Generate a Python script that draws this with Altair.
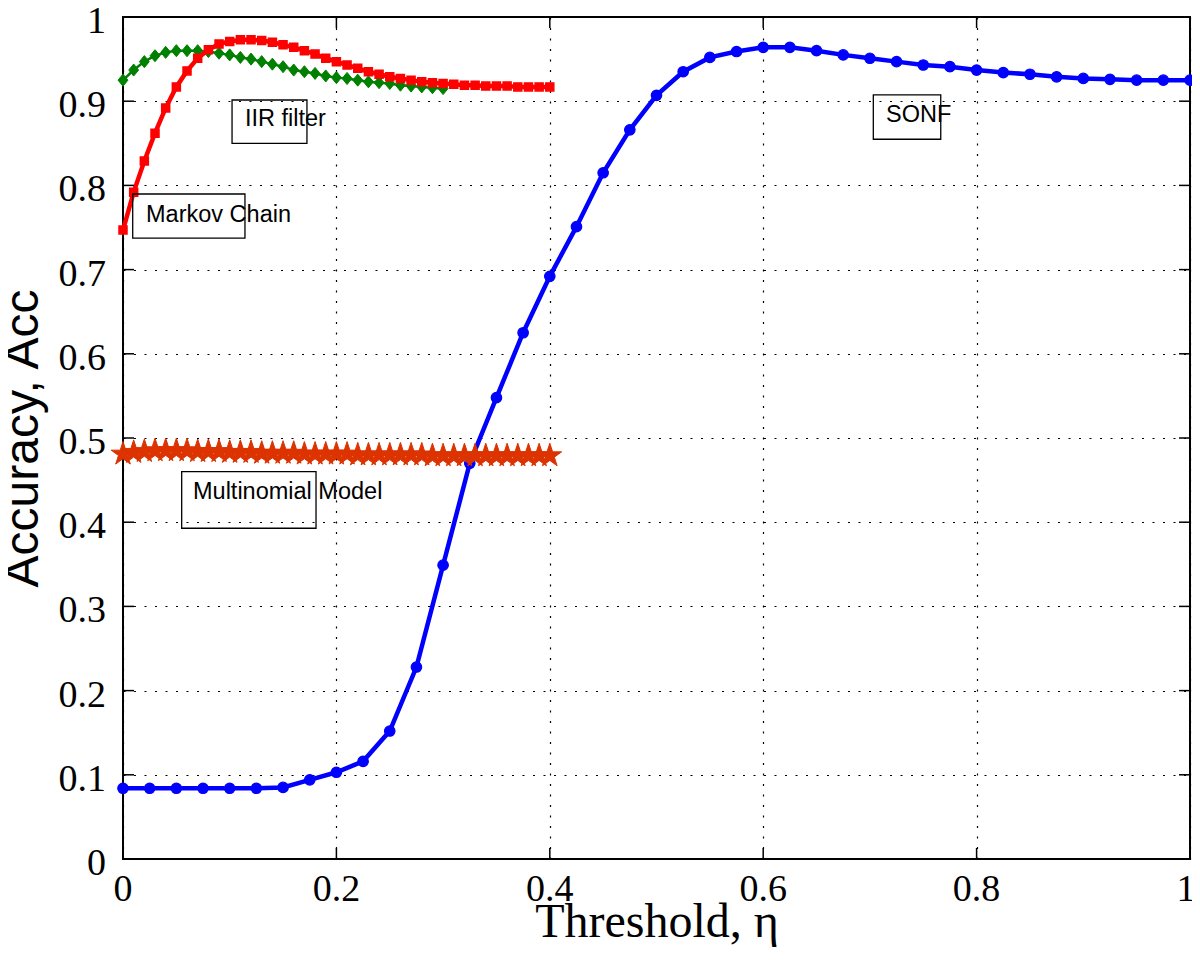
import altair as alt
import pandas as pd

# ---------------- data ----------------
sonf_x = [0.0, 0.025, 0.05, 0.075, 0.1, 0.125, 0.15, 0.175, 0.2, 0.225, 0.25, 0.275,
          0.3, 0.325, 0.35, 0.375, 0.4, 0.425, 0.45, 0.475, 0.5, 0.525, 0.55, 0.575,
          0.6, 0.625, 0.65, 0.675, 0.7, 0.725, 0.75, 0.775, 0.8, 0.825, 0.85, 0.875,
          0.9, 0.925, 0.95, 0.975, 1.0]
sonf_y = [0.084, 0.084, 0.084, 0.084, 0.084, 0.084, 0.085, 0.094, 0.103, 0.116, 0.152,
          0.228, 0.349, 0.470, 0.548, 0.625, 0.692, 0.751, 0.815, 0.866, 0.907, 0.935,
          0.952, 0.959, 0.964, 0.964, 0.960, 0.955, 0.951, 0.947, 0.943, 0.941, 0.937,
          0.934, 0.932, 0.929, 0.927, 0.926, 0.925, 0.925, 0.925]

markov_x = [0.0, 0.01, 0.02, 0.03, 0.04, 0.05, 0.06, 0.07, 0.08, 0.09, 0.1, 0.11, 0.12,
            0.13, 0.14, 0.15, 0.16, 0.17, 0.18, 0.19, 0.2, 0.21, 0.22, 0.23, 0.24, 0.25,
            0.26, 0.27, 0.28, 0.29, 0.3, 0.31, 0.32, 0.33, 0.34, 0.35, 0.36, 0.37, 0.38,
            0.39, 0.4]
markov_y = [0.747, 0.792, 0.829, 0.862, 0.892, 0.917, 0.936, 0.951, 0.961, 0.968, 0.971,
            0.973, 0.973, 0.972, 0.970, 0.967, 0.964, 0.960, 0.956, 0.951, 0.947, 0.943,
            0.939, 0.935, 0.932, 0.929, 0.927, 0.925, 0.923, 0.922, 0.921, 0.920, 0.919,
            0.919, 0.918, 0.918, 0.918, 0.917, 0.917, 0.917, 0.917]

iir_x = [0.0, 0.01, 0.02, 0.03, 0.04, 0.05, 0.06, 0.07, 0.08, 0.09, 0.1, 0.11, 0.12,
         0.13, 0.14, 0.15, 0.16, 0.17, 0.18, 0.19, 0.2, 0.21, 0.22, 0.23, 0.24, 0.25,
         0.26, 0.27, 0.28, 0.29, 0.3]
iir_y = [0.925, 0.937, 0.947, 0.954, 0.958, 0.960, 0.960, 0.960, 0.959, 0.957, 0.955,
         0.952, 0.950, 0.947, 0.944, 0.941, 0.937, 0.935, 0.933, 0.930, 0.928, 0.927,
         0.925, 0.923, 0.922, 0.921, 0.919, 0.918, 0.917, 0.916, 0.915]

multi_x = markov_x
multi_y = [0.481, 0.483, 0.484, 0.485, 0.485, 0.485, 0.485, 0.484, 0.484, 0.484,
           0.483, 0.483, 0.483, 0.482, 0.482, 0.482, 0.482, 0.481, 0.481, 0.481,
           0.481, 0.481, 0.480, 0.480, 0.480, 0.480, 0.480, 0.480, 0.480, 0.479,
           0.479, 0.479, 0.479, 0.479, 0.479, 0.479, 0.479, 0.479, 0.479, 0.479, 0.479]

x_ticks = [0, 0.2, 0.4, 0.6, 0.8, 1]
x_tick_labels = ["0", "0.2", "0.4", "0.6", "0.8", "1"]
y_ticks = [0, 0.1, 0.2, 0.3, 0.4, 0.5, 0.6, 0.7, 0.8, 0.9, 1]
y_tick_labels = ["0", "0.1", "0.2", "0.3", "0.4", "0.5", "0.6", "0.7", "0.8", "0.9", "1"]

# annotation boxes (MATLAB text boxes)
note_text = ["Markov Chain", "IIR filter", "Multinomial Model", "SONF"]
note_tx = [0.0216, 0.1143, 0.0656, 0.7151]
note_ty = [0.757, 0.870, 0.428, 0.875]
box_x1 = [0.0091, 0.1022, 0.0550, 0.7032]
box_x2 = [0.1143, 0.1724, 0.1809, 0.7664]
box_y1 = [0.7898, 0.9014, 0.4600, 0.9074]
box_y2 = [0.7375, 0.8500, 0.3928, 0.8548]

# ---------------- chart ----------------
W, H = 1067, 842
TICK = 11
SERIF = "Liberation Serif"
SANS = "Liberation Sans"
STAR = ("M0,-1L0.2245,-0.309L0.9511,-0.309L0.3633,0.118L0.5878,0.809L0,0.382"
        "L-0.5878,0.809L-0.3633,0.118L-0.9511,-0.309L-0.2245,-0.309Z")
DIAMOND = "M0,-1.1L0.9,0L0,1.1L-0.9,0Z"

xs = alt.Scale(domain=[0, 1], nice=False, zero=False)
ys = alt.Scale(domain=[0, 1], nice=False, zero=False)

x_axis = alt.Axis(values=x_ticks, labels=False,
                  title="Threshold, η", titleFont=SERIF, titleFontSize=48,
                  titleBaseline="alphabetic", titleY=77)
y_axis = alt.Axis(values=y_ticks, labels=False,
                  title="Accuracy, Acc", titleFont=SANS, titleFontSize=48, titleAngle=270,
                  titleAlign="center", titleBaseline="alphabetic", titleX=-86, titleY=421)


def X(field="x"):
    return alt.X(f"{field}:Q", scale=xs, axis=x_axis)


def Y(field="y"):
    return alt.Y(f"{field}:Q", scale=ys, axis=y_axis)


def series(xv, yv, color, shape, size, lw, sw):
    df = pd.DataFrame({"x": xv, "y": yv})
    base = alt.Chart(df)
    line = base.mark_line(color=color, strokeWidth=lw).encode(x=X(), y=Y())
    pts = base.mark_point(shape=shape, filled=True, size=size, fill=color, stroke=color,
                          opacity=1, strokeWidth=sw).encode(x=X(), y=Y())
    return [line, pts]


layers = []
layers += series(sonf_x, sonf_y, "#0000ff", "circle", 110, 4.5, 1.2)
layers += series(iir_x, iir_y, "#008000", DIAMOND, 120, 2.5, 1.0)
layers += series(markov_x, markov_y, "#ff0000", "square", 64, 4.5, 1.5)
layers += series(multi_x, multi_y, "#dc3300", STAR, 620, 2.5, 1.0)

# boxes and labels
box_df = pd.DataFrame({"x": box_x1, "x2": box_x2, "y": box_y1, "y2": box_y2})
boxes = alt.Chart(box_df).mark_rect(fillOpacity=0, stroke="black", strokeWidth=1.3).encode(
    x=X(), x2="x2:Q", y=Y(), y2="y2:Q")
txt_df = pd.DataFrame({"x": note_tx, "y": note_ty, "t": note_text})
texts = alt.Chart(txt_df).mark_text(align="left", baseline="alphabetic",
                                     font=SANS, fontSize=23.5,
                                     color="black").encode(x=X(), y=Y(), text="t:N")
layers += [boxes, texts]

# inward MATLAB-style ticks on all four sides
xt = alt.Chart(pd.DataFrame({"x": x_ticks, "t": x_tick_labels}))
yt = alt.Chart(pd.DataFrame({"y": y_ticks, "t": y_tick_labels}))
tick_style = dict(color="black", strokeWidth=1.5)
layers += [
    xt.mark_rule(**tick_style).encode(x=X(), y=alt.value(H), y2=alt.value(H - TICK)),
    xt.mark_rule(**tick_style).encode(x=X(), y=alt.value(0), y2=alt.value(TICK)),
    yt.mark_rule(**tick_style).encode(y=Y(), x=alt.value(0), x2=alt.value(TICK)),
    yt.mark_rule(**tick_style).encode(y=Y(), x=alt.value(W), x2=alt.value(W - TICK)),
]

# tick labels in a Times-like serif, as in the MATLAB figure
lab = dict(font=SERIF, fontSize=38, color="black")
layers += [
    xt.transform_filter("datum.x < 1").mark_text(align="center", baseline="alphabetic", **lab)
      .encode(x=X(), y=alt.value(H + 42), text="t:N"),
    xt.transform_filter("datum.x >= 1").mark_text(align="center", baseline="alphabetic",
                                                  dx=-4, **lab)
      .encode(x=X(), y=alt.value(H + 42), text="t:N"),
    yt.mark_text(align="right", baseline="middle", dy=5, **lab)
      .encode(y=Y(), x=alt.value(-17), text="t:N"),
]

chart = alt.layer(*layers).properties(
    width=W, height=H,
    autosize=alt.AutoSizeParams(type="none"),
    padding={"left": 115, "top": 9, "right": 2, "bottom": 96},
    background="white",
).configure_view(
    stroke="black", strokeWidth=2
).configure_axis(
    ticks=False, tickSize=0, domain=False,
    grid=True, gridColor="black", gridDash=[2, 8.5], gridWidth=1.2, gridOpacity=1,
    titleFontWeight="normal", titleColor="black",
)

chart.save("out.html", embed_options={"renderer": "svg", "actions": False})
